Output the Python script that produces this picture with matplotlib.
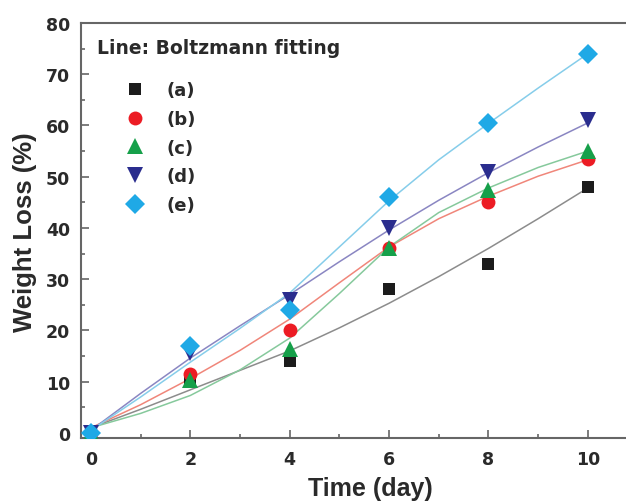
import numpy as np
import matplotlib
matplotlib.use("Agg")
import matplotlib.pyplot as plt
from matplotlib.ticker import MultipleLocator

# measured points
days = [0, 2, 4, 6, 8, 10]
loss_a = [0, 10, 14, 28, 33, 48]
loss_b = [0, 11.5, 20, 36, 45, 53.5]
loss_c = [0, 10.3, 16.3, 36, 47.5, 55]
loss_d = [0, 15.5, 26, 40, 51, 61]
loss_e = [0, 17, 24, 46, 60.5, 74]

# Boltzmann fit curves at each day
fit_days = [0, 1, 2, 3, 4, 5, 6, 7, 8, 9, 10]
fit_a = [1.0, 4.6, 8.4, 12.2, 16.0, 20.5, 25.3, 30.5, 36.0, 41.8, 47.8]
fit_b = [1.0, 5.5, 10.6, 16.1, 22.2, 29.3, 36.3, 41.8, 46.2, 50.1, 53.3]
fit_c = [1.0, 3.8, 7.3, 12.3, 18.5, 27.2, 36.3, 43.0, 47.8, 51.8, 55.0]
fit_d = [0.5, 7.7, 14.6, 20.9, 27.0, 33.4, 39.6, 45.4, 50.8, 55.8, 60.5]
fit_e = [0.5, 7.0, 13.8, 20.4, 27.3, 36.3, 45.3, 53.3, 60.4, 67.3, 74.0]

labels = ["(a)", "(b)", "(c)", "(d)", "(e)"]
point_sets = [loss_a, loss_b, loss_c, loss_d, loss_e]
fit_sets = [fit_a, fit_b, fit_c, fit_d, fit_e]

marker_colors = ["#1c1c1c", "#ec1c24", "#16a04a", "#2a2d8e", "#1fa9e6"]
line_colors = ["#8c8c8c", "#f0867a", "#86c99c", "#8a86c2", "#86cdea"]
markers = ["s", "o", "^", "v", "D"]
msizes = [8.5, 10, 11, 11, 10]

fig = plt.figure(figsize=(6.26, 5.02), dpi=100)
ax = fig.add_axes([81 / 626, 1 - 439 / 502, (640 - 81) / 626, 415 / 502])

for fy, col in zip(fit_sets, line_colors):
    ax.plot(fit_days, fy, color=col, lw=1.1, zorder=2)

handles = []
for ys, col, mk, ms, lab in zip(point_sets, marker_colors, markers, msizes, labels):
    h, = ax.plot(days, ys, linestyle="none", marker=mk, markersize=ms,
                 color=col, markeredgewidth=0, label=lab, zorder=3)
    handles.append(h)

ax.set_xlim(-0.2, 11.05)
ax.set_ylim(-1, 80)
ax.xaxis.set_major_locator(MultipleLocator(2))
ax.xaxis.set_minor_locator(MultipleLocator(1))
ax.yaxis.set_major_locator(MultipleLocator(10))
ax.yaxis.set_minor_locator(MultipleLocator(5))

spine_col = "#666666"
for s in ["left", "bottom", "top", "right"]:
    ax.spines[s].set_color(spine_col)
    ax.spines[s].set_linewidth(1.5)

ax.tick_params(which="both", direction="in", color=spine_col, width=1.2,
               top=False, right=False, labelcolor="#2a2a2a")
ax.tick_params(which="major", length=5.5)
ax.tick_params(which="minor", length=3)
ax.tick_params(axis="x", pad=9)
ax.tick_params(axis="y", pad=8)
for lab in ax.get_xticklabels() + ax.get_yticklabels():
    lab.set_fontfamily("DejaVu Sans")
    lab.set_fontweight("bold")
    lab.set_fontsize(12.5)

ax.set_xlabel("Time (day)", fontfamily="Liberation Sans", fontweight="bold",
              fontsize=18, color="#2a2a2a", va="center")
ax.xaxis.set_label_coords((370 - 81) / 559, (439 - 489) / 415)
ax.set_ylabel("Weight Loss (%)", fontfamily="Liberation Sans", fontweight="bold",
              fontsize=18.5, color="#2a2a2a", va="center", ha="center")
ax.yaxis.set_label_coords((25 - 81) / 559, (439 - 232) / 415)

ax.text((97 - 81) / 559, (439 - 48) / 415, "Line: Boltzmann fitting",
        transform=ax.transAxes, fontfamily="DejaVu Sans", fontweight="bold",
        fontsize=13.5, color="#2a2a2a", va="center", ha="left")

leg = ax.legend(handles=handles, loc="upper left",
                bbox_to_anchor=((117 - 81) / 559, (439 - 82) / 415),
                frameon=False, borderaxespad=0, borderpad=0, numpoints=1,
                handlelength=2.0, handletextpad=0.75, labelspacing=0.6,
                prop={"family": "DejaVu Sans", "weight": "bold", "size": 13})
for t in leg.get_texts():
    t.set_color("#2a2a2a")

fig.savefig("out.png", dpi=100)
